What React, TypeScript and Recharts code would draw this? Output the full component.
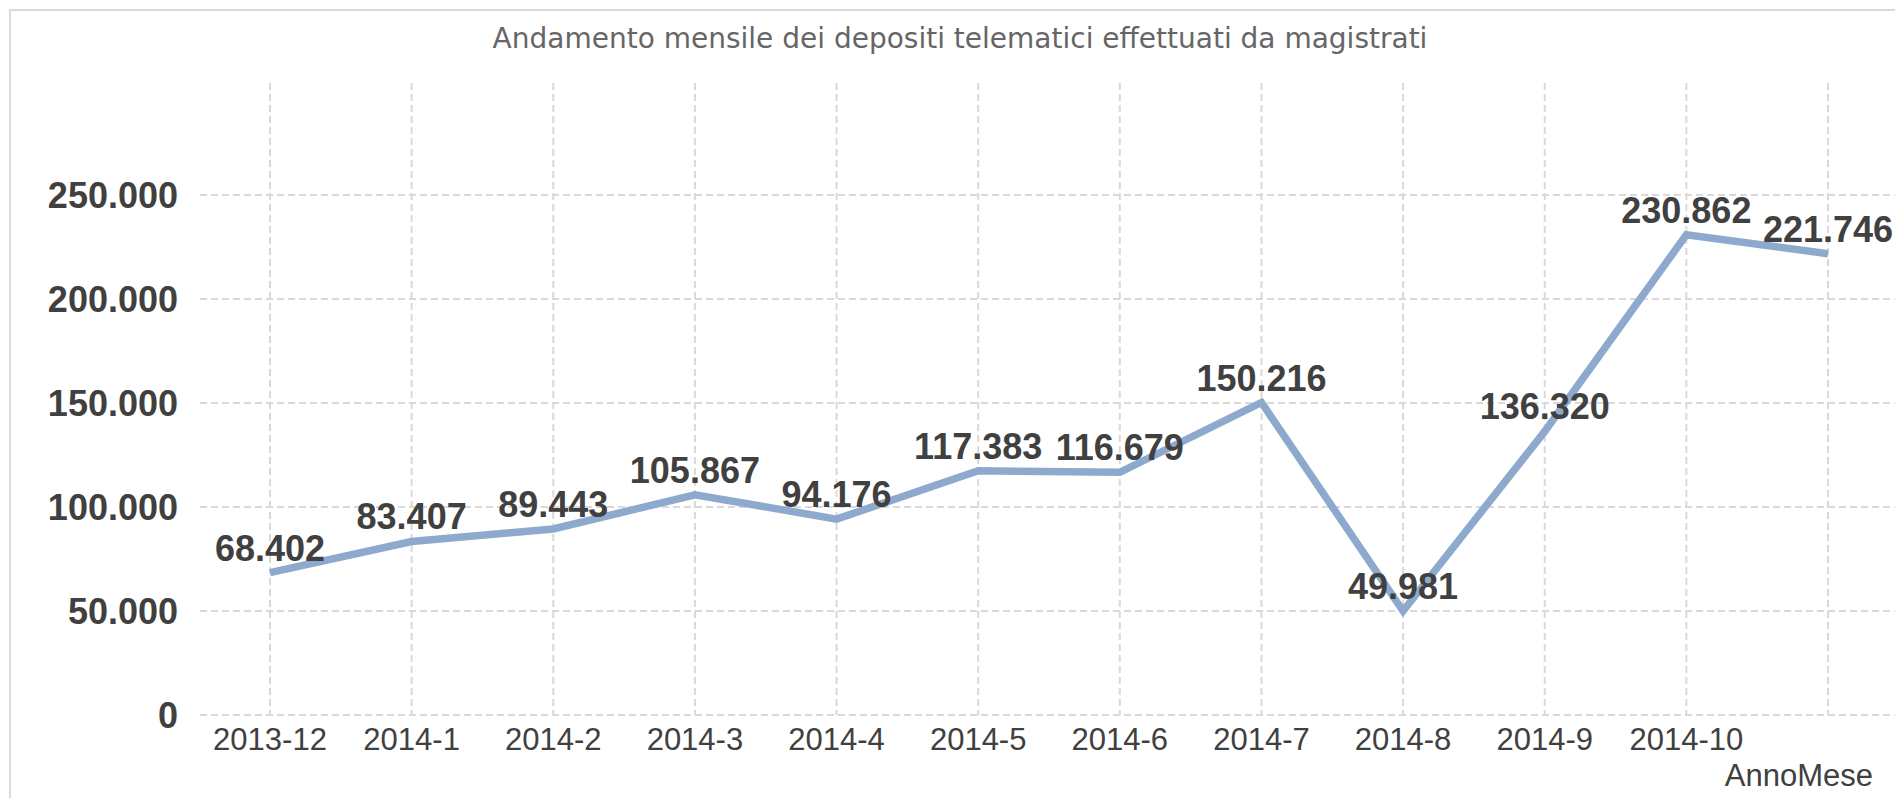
import React from 'react';
import { LineChart, Line, XAxis, YAxis, CartesianGrid, LabelList } from 'recharts';

const categories = ['2013-12', '2014-1', '2014-2', '2014-3', '2014-4', '2014-5', '2014-6', '2014-7', '2014-8', '2014-9', '2014-10', '2014-11'];
const depositi = [68402, 83407, 89443, 105867, 94176, 117383, 116679, 150216, 49981, 136320, 230862, 221746];
const yTicks = [0, 50000, 100000, 150000, 200000, 250000];
const title = 'Andamento mensile dei depositi telematici effettuati da magistrati';
const xAxisTitle = 'AnnoMese';

const data = categories.map((c, i) => ({ mese: c, depositi: depositi[i] }));

const fmt = (v: number) => String(Math.round(v)).replace(/\B(?=(\d{3})+(?!\d))/g, '.');

const FONT = '"Liberation Sans", Arial, sans-serif';
const TEXT = '#404040';

export default function App() {
  return (
    <div style={{ position: 'absolute', left: 0, top: 0, width: 1895, height: 798, overflow: 'hidden', background: '#fff' }}>
      <svg width={1895} height={798} style={{ position: 'absolute', left: 0, top: 0 }}>
        <rect x={10} y={10} width={1900} height={800} fill="none" stroke="#d9d9d9" strokeWidth={2} />
        <text x={960} y={48} textAnchor="middle" fontFamily='"DejaVu Sans", Verdana, sans-serif' fontSize={28} fill="#666666">
          {title}
        </text>
        <text x={1873} y={786} textAnchor="end" fontFamily={FONT} fontSize={31} fill={TEXT}>
          {xAxisTitle}
        </text>
      </svg>
      <div style={{ position: 'absolute', left: 0, top: 0 }}>
        <LineChart width={1900} height={798} data={data} margin={{ top: 83, right: 2, bottom: 0, left: 0 }}>
          <CartesianGrid stroke="#d9d9d9" strokeWidth={2} strokeDasharray="7 4" syncWithTicks />
          <XAxis
            dataKey="mese"
            height={83}
            padding={{ left: 70, right: 70 }}
            axisLine={false}
            tickLine={false}
            tickSize={0}
            tickMargin={13}
            interval={0}
            tick={{ fontFamily: FONT, fontSize: 31, fill: TEXT }}
            tickFormatter={(v: string, i: number) => (i === categories.length - 1 ? '' : v)}
          />
          <YAxis
            width={200}
            domain={[0, 303800]}
            ticks={yTicks}
            axisLine={false}
            tickLine={false}
            tickSize={0}
            tickMargin={22}
            tick={{ fontFamily: FONT, fontSize: 36, fontWeight: 'bold', fill: TEXT }}
            tickFormatter={(v: number) => fmt(v)}
          />
          <Line
            type="linear"
            dataKey="depositi"
            stroke="#8DAACE"
            strokeWidth={7.5}
            dot={false}
            activeDot={false}
            isAnimationActive={false}
          >
            <LabelList
              dataKey="depositi"
              position="top"
              offset={12}
              formatter={(v: number) => fmt(v)}
              style={{ fontFamily: FONT, fontSize: 36, fontWeight: 'bold', fill: TEXT }}
            />
          </Line>
        </LineChart>
      </div>
    </div>
  );
}
